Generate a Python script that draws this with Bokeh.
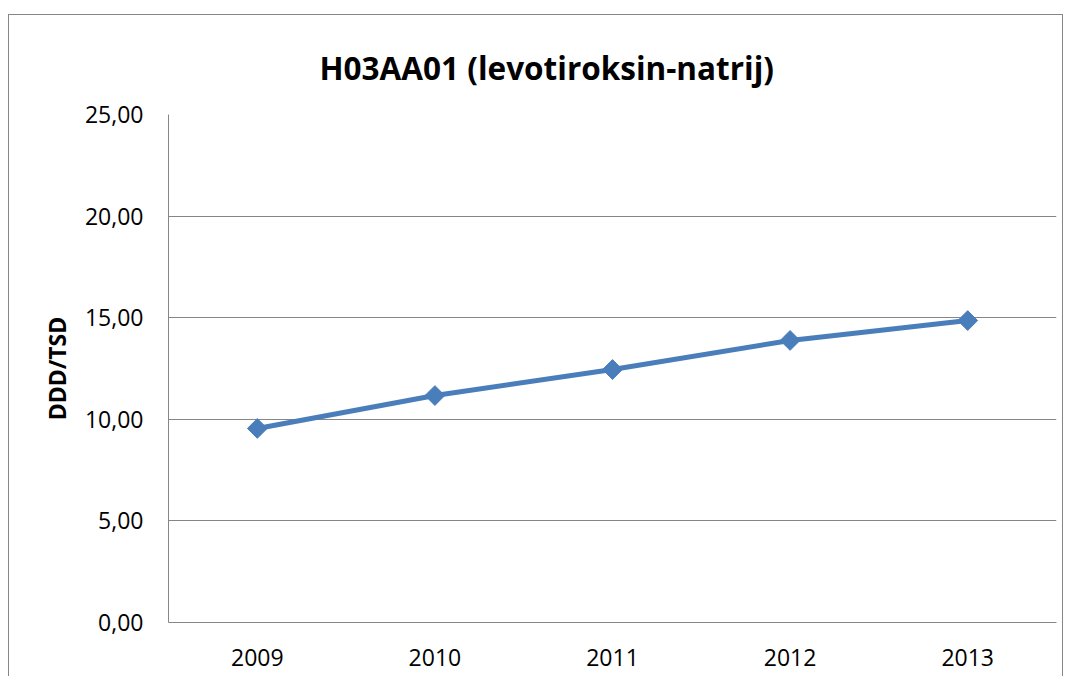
import math
from bokeh.plotting import figure
from bokeh.models import FixedTicker, FactorRange, Range1d
from bokeh.embed import file_html
from bokeh.resources import INLINE

years = ["2009", "2010", "2011", "2012", "2013"]
values = [9.55, 11.17, 12.45, 13.88, 14.86]
y_ticks = [0, 5, 10, 15, 20, 25]
y_tick_labels = ["0,00", "5,00", "10,00", "15,00", "20,00", "25,00"]

FONT = "Open Sans"
GRAY = "#868686"
BLUE = "#4A7EBB"

p = figure(
    x_range=FactorRange(*years, range_padding=0),
    y_range=Range1d(0, 25),
    width=1055, height=662,
    output_backend="svg", toolbar_location=None,
    min_border_left=159, min_border_right=8,
    min_border_top=99, min_border_bottom=55,
    margin=(14, 0, 0, 8),
)
p.styles = {"border-top": "1px solid " + GRAY, "border-left": "1px solid " + GRAY,
            "border-right": "1px solid " + GRAY}

p.title.text = "H03AA01 (levotiroksin-natrij)"
p.title.text_font = FONT
p.title.text_font_style = "bold"
p.title.text_font_size = "31.5px"
p.title.align = "left"
p.title.offset = 151
p.title.standoff = 52
p.title.text_color = "#000000"

p.outline_line_color = None
p.xgrid.grid_line_color = None
p.ygrid.grid_line_color = GRAY
p.ygrid.grid_line_width = 1

p.yaxis.ticker = FixedTicker(ticks=y_ticks)
p.yaxis.major_label_overrides = {t: l for t, l in zip(y_ticks, y_tick_labels)}
p.yaxis.axis_label = "DDD/TSD"
p.yaxis.axis_label_text_font = FONT
p.yaxis.axis_label_text_font_style = "bold"
p.yaxis.axis_label_text_font_size = "23px"
p.yaxis.axis_label_text_color = "#000000"
p.yaxis.axis_label_standoff = 9

for ax in (p.xaxis, p.yaxis):
    ax.axis_line_color = GRAY
    ax.axis_line_width = 1
    ax.major_tick_line_color = None
    ax.minor_tick_line_color = None
    ax.major_label_text_font = FONT
    ax.major_label_text_font_size = "23px"
    ax.major_label_text_color = "#000000"
p.yaxis.major_label_standoff = 19
p.xaxis.major_label_standoff = 20

p.line(years, values, line_color=BLUE, line_width=5)
p.scatter(years, values, marker="square", angle=math.pi / 4, size=14,
          fill_color=BLUE, line_color=BLUE)

open("out.html", "w").write(file_html(p, INLINE))
